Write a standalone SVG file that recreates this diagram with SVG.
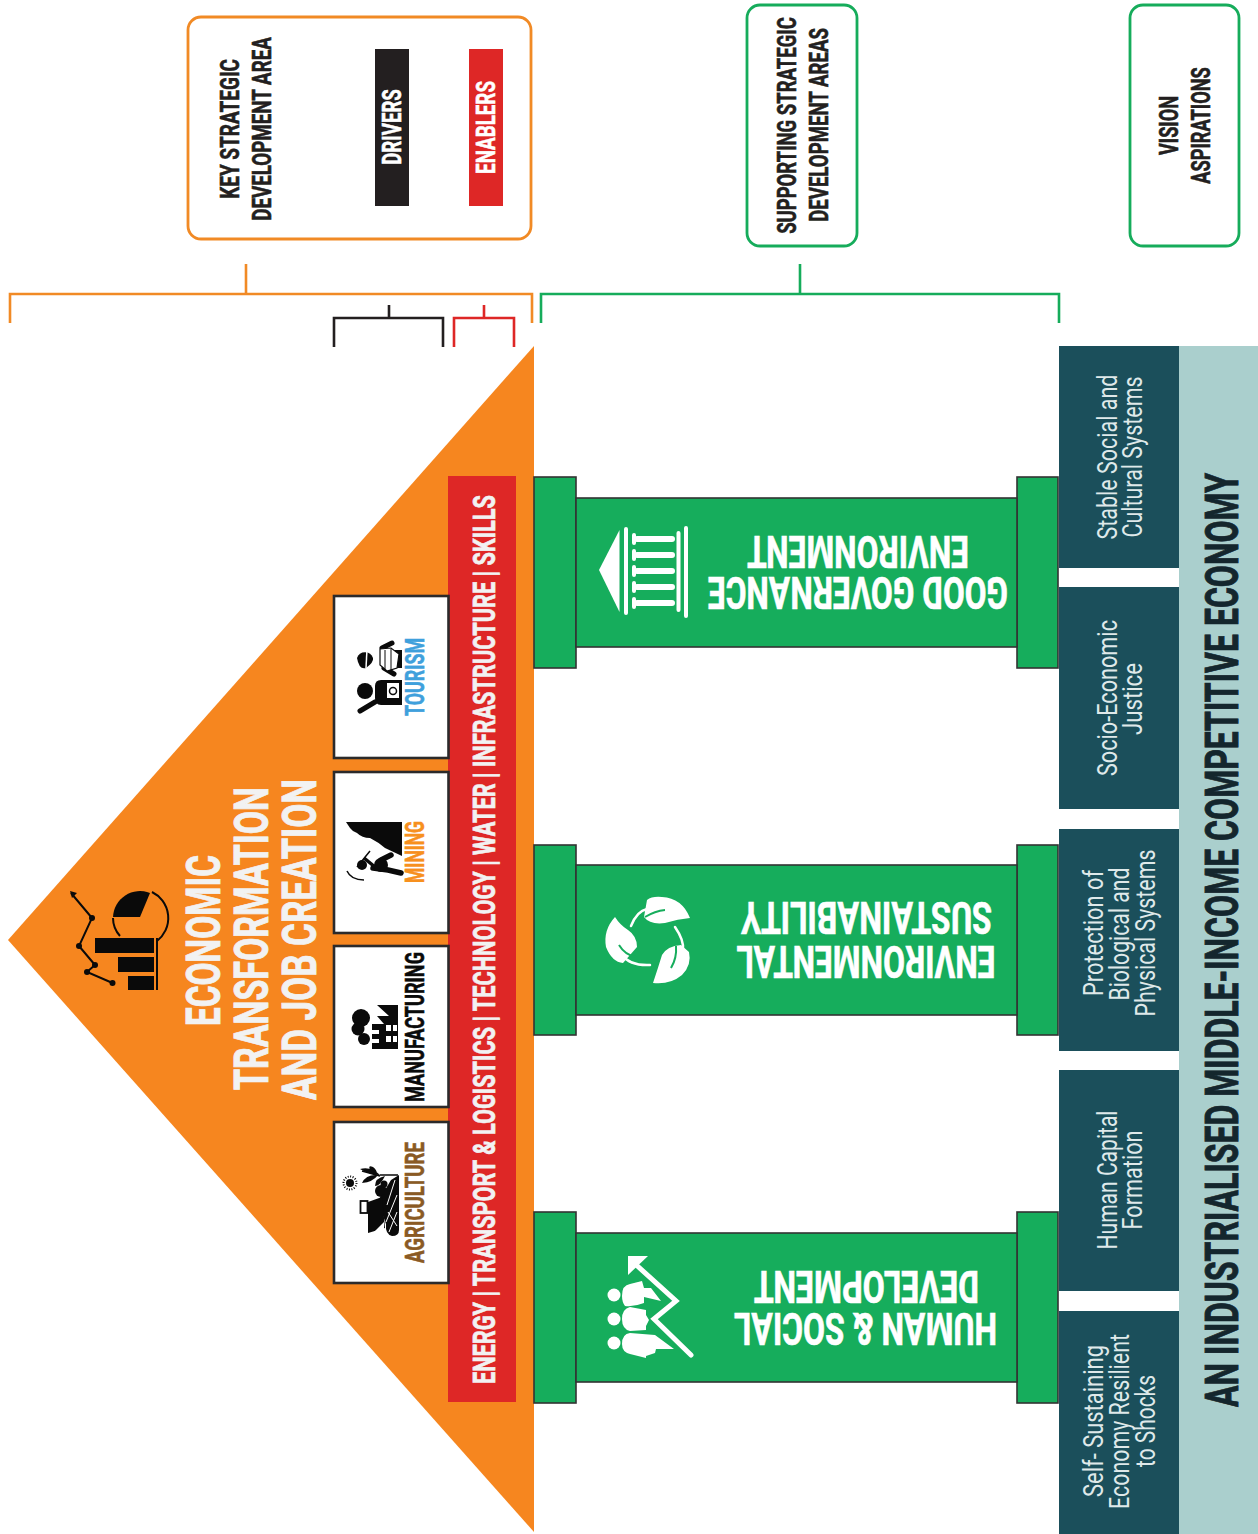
<svg xmlns="http://www.w3.org/2000/svg" width="1258" height="1534" viewBox="0 0 1258 1534">
<style>
text{font-family:"Liberation Sans Narrow","Roboto","Liberation Sans",sans-serif;font-weight:700;text-anchor:middle}
.pier{fill:#16ad5c;stroke:#333;stroke-width:1.6}
.card{fill:#fff;stroke:#2b2a2b;stroke-width:2.6}
.br{fill:none;stroke-width:2.6}
.frame{fill:#fff;stroke-width:2.8}
.teal{fill:#1b4f5b}
.soft{font-weight:400;font-size:27px;fill:#dfe9ea}
.pt{font-size:45px;fill:#fff;stroke:#fff;stroke-width:.7}
.lab{font-size:26px;stroke-width:.6}
.leg{font-size:26px;fill:#231f20;stroke:#231f20;stroke-width:.6}
.title{font-size:49px;fill:#f2f2f2;stroke:#f2f2f2;stroke-width:.9}
.white{fill:#fff}
.ln{fill:none;stroke:#fff;stroke-linecap:round}
.k{fill:#0a0a0a}
.kl{fill:none;stroke:#0a0a0a}
</style>

<g id="connectors">
<path class="br" stroke="#f18a25" d="M246 264V294M10 323V294H532V323"/>
<path class="br" stroke="#231f20" d="M389 305V318M334 347V318H443V347"/>
<path class="br" stroke="#de2726" d="M484 305V318M454 347V318H514V347"/>
<path class="br" stroke="#16ac5b" d="M800 264V294M541 323V294H1059V323"/>
</g>

<g id="legend-key">
<rect class="frame" stroke="#f18a25" x="188" y="17" width="343" height="222" rx="13"/>
<text class="leg" transform="translate(239 129) rotate(-90) scale(.72 1)" textLength="194" lengthAdjust="spacingAndGlyphs">KEY STRATEGIC</text>
<text class="leg" transform="translate(271 129) rotate(-90) scale(.72 1)" textLength="255" lengthAdjust="spacingAndGlyphs">DEVELOPMENT AREA</text>
</g>
<g id="legend-drivers">
<rect x="375" y="49" width="34" height="157" fill="#231f20"/>
<text class="lab" fill="#fff" stroke="#fff" transform="translate(401 127) rotate(-90) scale(.72 1)" textLength="105" lengthAdjust="spacingAndGlyphs">DRIVERS</text>
</g>
<g id="legend-enablers">
<rect x="469" y="49" width="34" height="157" fill="#de2726"/>
<text class="lab" fill="#fff" stroke="#fff" transform="translate(495 127.500) rotate(-90) scale(.72 1)" textLength="129" lengthAdjust="spacingAndGlyphs">ENABLERS</text>
</g>
<g id="legend-supporting">
<rect class="frame" stroke="#16ac5b" x="747" y="5" width="110" height="241" rx="13"/>
<text class="leg" transform="translate(796 125.500) rotate(-90) scale(.72 1)" textLength="301" lengthAdjust="spacingAndGlyphs">SUPPORTING STRATEGIC</text>
<text class="leg" transform="translate(828 125) rotate(-90) scale(.72 1)" textLength="269" lengthAdjust="spacingAndGlyphs">DEVELOPMENT AREAS</text>
</g>
<g id="legend-vision">
<rect class="frame" stroke="#16ac5b" x="1130" y="5" width="109" height="241" rx="13"/>
<text class="leg" transform="translate(1178 125.500) rotate(-90) scale(.72 1)" textLength="82" lengthAdjust="spacingAndGlyphs">VISION</text>
<text class="leg" transform="translate(1210 125.500) rotate(-90) scale(.72 1)" textLength="162" lengthAdjust="spacingAndGlyphs">ASPIRATIONS</text>
</g>

<g id="economic-triangle">
<polygon points="8,940 534,346 534,1532" fill="#f6861f"/>
<text class="title" transform="translate(220 940.500) rotate(-90)" textLength="171" lengthAdjust="spacingAndGlyphs">ECONOMIC</text>
<text class="title" transform="translate(268 938.500) rotate(-90)" textLength="303" lengthAdjust="spacingAndGlyphs">TRANSFORMATION</text>
<text class="title" transform="translate(316 939.500) rotate(-90)" textLength="321" lengthAdjust="spacingAndGlyphs">AND JOB CREATION</text>
<g id="growth-icon">
<path class="k" d="M113 917A27 27 0 0 1 150 893L140 917Z"/>
<path class="kl" stroke-width="2" d="M113 918A27 27 0 0 0 120 936M152 892A29 29 0 0 1 157 941"/>
<path class="k" d="M95 938H154V953H95ZM118 957H154V972H118ZM128 976H154V990H128Z"/>
<path class="kl" stroke-width="2" d="M157 938V990M71 893L92 918L79 946L95 965L87 972L112.500 983"/>
<path class="k" d="M70 891L77 893L72 898Z"/>
<g class="k"><circle cx="92" cy="918" r="3"/><circle cx="79" cy="946" r="3"/><circle cx="95" cy="965" r="3"/><circle cx="87" cy="972" r="3"/><circle cx="112.500" cy="983" r="3"/></g>
</g>
</g>

<g id="enablers-strip">
<rect x="448" y="476" width="68" height="926" fill="#de2726"/>
<text font-size="31" fill="#f2f2f2" stroke="#f2f2f2" stroke-width=".7" transform="translate(495 939.500) rotate(-90)" textLength="889" lengthAdjust="spacingAndGlyphs">ENERGY | TRANSPORT &amp; LOGISTICS | TECHNOLOGY | WATER | INFRASTRUCTURE | SKILLS</text>
</g>

<g id="agriculture">
<rect class="card" x="334" y="1122" width="114.500" height="161"/>
<text class="lab" fill="#8a5a24" stroke="#8a5a24" transform="translate(424 1202.500) rotate(-90)" textLength="121" lengthAdjust="spacingAndGlyphs">AGRICULTURE</text>
<circle class="k" cx="350" cy="1183" r="4"/>
<circle class="kl" cx="350" cy="1183" r="6.500" stroke-width="2" stroke-dasharray="1 1.500"/>
<g class="k"><circle cx="381" cy="1191" r="6"/><circle cx="386" cy="1201" r="7"/><circle cx="384" cy="1184" r="3.500"/></g>
<path class="k" d="M399 1175V1230Q399 1236 392 1236Q385 1234 386 1224L381 1210L385 1190L391 1180Z"/>
<path d="M395 1180L387 1205M397 1195L386 1222M397 1212L389 1232M388 1212L397 1226" fill="none" stroke="#fff" stroke-width="1"/>
<path class="k" d="M368 1202L382 1197L385 1228L368 1233Z"/>
<path class="white" d="M373 1233L384 1222V1232Z"/>
<rect x="360.500" y="1201" width="7" height="12" fill="none" stroke="#0a0a0a" stroke-width="1.800"/>
<path class="kl" stroke-width="1.500" d="M398 1175H380M380 1176L362 1171"/>
<path class="k" d="M380 1175Q370 1175 360 1169Q371 1166 380 1175ZM378 1175Q373 1182 362 1183Q366 1174 378 1175ZM372 1173Q366 1164 373 1167Q377 1170 377 1174ZM385 1176Q380 1186 375 1186Q375 1178 385 1176Z"/>
</g>
<g id="manufacturing">
<rect class="card" x="334" y="946" width="114.500" height="161"/>
<text class="lab" fill="#0a0a0a" stroke="#0a0a0a" transform="translate(424 1027) rotate(-90)" textLength="150" lengthAdjust="spacingAndGlyphs">MANUFACTURING</text>
<g class="k"><circle cx="361" cy="1018" r="9"/><circle cx="358" cy="1029" r="6.500"/><circle cx="364" cy="1039" r="6"/></g>
<path class="k" d="M398 1005H377L389 1016H377L384 1024H372V1030H379V1034H372V1039H379V1043H372V1049H398Z"/>
<path class="white" d="M386 1025H391V1031H386ZM393 1025H397V1031H393ZM386 1036H391V1042H386ZM393 1036H397V1042H393Z"/>
</g>
<g id="mining">
<rect class="card" x="334" y="772" width="114.500" height="161"/>
<text class="lab" fill="#f7901e" stroke="#f7901e" transform="translate(424 852) rotate(-90)" textLength="62" lengthAdjust="spacingAndGlyphs">MINING</text>
<path class="k" d="M346 822H402V856L385 848Q378 842 370 838Q362 838 357 833Q353 832 350 828Z"/>
<path class="kl" stroke-width="5.500" stroke-linecap="round" d="M401 873L388 870L373 868M381 860L391 855"/>
<circle class="k" cx="381" cy="865" r="7"/>
<circle class="k" cx="362" cy="865" r="5"/>
<path class="kl" stroke-width="1.500" d="M347 871Q351 880 364 880M357 867L370 851"/>
<path class="kl" stroke-width="3.500" d="M375 867L364 858"/>
</g>
<g id="tourism">
<rect class="card" x="334" y="596" width="114.500" height="162"/>
<text fill="#3fa0dc" stroke="#3fa0dc" class="lab" transform="translate(424 677) rotate(-90)" textLength="78" lengthAdjust="spacingAndGlyphs">TOURISM</text>
<circle class="k" cx="365" cy="691" r="8"/>
<path class="k" d="M375 686Q375 680 381 680H402V705H381Q375 705 375 698Z"/>
<rect x="387" y="683" width="12" height="15" fill="#fff"/>
<circle cx="393" cy="691" r="3.500" fill="none" stroke="#0a0a0a" stroke-width="1.500"/>
<path class="kl" stroke-width="5" stroke-linecap="round" d="M375 702L360 711"/>
<path class="k" d="M357 658A8.500 8.500 0 0 1 373 658Q374 662 366 668Q359 670 357 658Z"/>
<path d="M367 649L366 668" stroke="#fff" stroke-width="1.500"/>
<path class="k" d="M392 650H402V668H392Z"/>
<path class="kl" stroke-width="5" stroke-linecap="round" d="M382 648L392 643M384 668L394 674"/>
<path d="M380 649L391 648L399 654L397 668L387 671L380 665Z" fill="#fff" stroke="#0a0a0a" stroke-width="1.200"/>
<path d="M385 650V669M391 649V670" stroke="#0a0a0a" stroke-width="1"/>
</g>

<g id="pillar-governance">
<rect class="pier" x="534" y="477" width="42" height="191"/>
<rect class="pier" x="1017" y="477" width="41" height="191"/>
<rect class="pier" x="576" y="498" width="441" height="149"/>
<path class="white" d="M599 570L619.500 530V612Z"/>
<path class="ln" stroke-width="4" d="M626 529V613M678.500 533V610M686 528V616"/>
<path class="ln" stroke-width="6" d="M637 539H672M637 555H672M637 571H672M637 587H672M637 603H672"/>
<path class="ln" stroke-width="4" d="M634 535V543M634 551V559M634 567V575M634 583V591M634 599V607"/>
<text class="pt" transform="translate(858 577) rotate(180)" textLength="300" lengthAdjust="spacingAndGlyphs">GOOD GOVERNANCE</text>
<text class="pt" transform="translate(858 536) rotate(180)" textLength="222" lengthAdjust="spacingAndGlyphs">ENVIRONMENT</text>
</g>
<g id="pillar-environment">
<rect class="pier" x="534" y="845" width="42" height="190"/>
<rect class="pier" x="1017" y="845" width="41" height="190"/>
<rect class="pier" x="576" y="865" width="441" height="150"/>
<path class="white" d="M690 918Q682 898 662 897Q652 896 647 900L644 917Q650 925 665 923Q678 919 690 918Z"/>
<path class="white" d="M615 917Q603 930 606 947Q612 962 623 963L637 947Q637 936 628 930Q620 925 615 917Z"/>
<path class="white" d="M653 983Q670 985 682 975Q692 965 689 952L681 945Q667 946 662 955Q658 968 653 983Z"/>
<path class="ln" stroke-width="2.500" d="M631 926Q637 911 647 909Q655 908 663 908M650 965Q630 966 622 955Q619 950 619 946M675 927Q684 940 683 950Q681 958 675 965"/>
<path d="M645 917Q655 911 665 910" fill="none" stroke="#16ad5c" stroke-width="2"/>
<path d="M619 945Q625 955 636 957" fill="none" stroke="#16ad5c" stroke-width="2"/>
<path d="M676 946Q677 958 671 968" fill="none" stroke="#16ad5c" stroke-width="2"/>
<text class="pt" transform="translate(866 946) rotate(180)" textLength="259" lengthAdjust="spacingAndGlyphs">ENVIRONMENTAL</text>
<text class="pt" transform="translate(866.500 902) rotate(180)" textLength="251" lengthAdjust="spacingAndGlyphs">SUSTAINABILITY</text>
</g>
<g id="pillar-human">
<rect class="pier" x="534" y="1212" width="42" height="191"/>
<rect class="pier" x="1017" y="1212" width="41" height="191"/>
<rect class="pier" x="576" y="1233" width="441" height="149"/>
<path class="ln" stroke-width="5" stroke-linecap="butt" d="M691 1355L654 1319L676 1301L633 1262"/>
<path class="white" d="M628 1256H648L628 1275Z"/>
<g class="white">
<circle cx="614" cy="1295" r="6.500"/><circle cx="614" cy="1319" r="6.500"/><circle cx="614" cy="1343" r="6.500"/>
<path d="M622 1296Q622 1285 630 1284L642 1281L644 1288L651 1288L661 1301L644 1297V1303Q634 1307 625 1306Q622 1302 622 1296Z"/>
<path d="M622 1319Q622 1309 630 1307L646 1310V1315L649 1320L646 1326V1330L630 1331Q622 1329 622 1319Z"/>
<path d="M622 1344Q622 1334 630 1333L655 1335L674 1349H656L655 1353L646 1356L646 1358L630 1354Q622 1352 622 1344Z"/>
</g>
<text class="pt" transform="translate(865.500 1313) rotate(180)" textLength="263" lengthAdjust="spacingAndGlyphs">HUMAN &amp; SOCIAL</text>
<text class="pt" transform="translate(866.500 1271) rotate(180)" textLength="225" lengthAdjust="spacingAndGlyphs">DEVELOPMENT</text>
</g>

<g id="aspiration-stable">
<rect class="teal" x="1059" y="346" width="120" height="222"/>
<text class="soft" transform="translate(1117 457) rotate(-90)" textLength="165" lengthAdjust="spacingAndGlyphs">Stable Social and</text>
<text class="soft" transform="translate(1142 457) rotate(-90)" textLength="161" lengthAdjust="spacingAndGlyphs">Cultural Systems</text>
</g>
<g id="aspiration-justice">
<rect class="teal" x="1059" y="587" width="120" height="222"/>
<text class="soft" transform="translate(1116.500 698) rotate(-90)" textLength="156" lengthAdjust="spacingAndGlyphs">Socio-Economic</text>
<text class="soft" transform="translate(1141.500 699) rotate(-90)" textLength="72" lengthAdjust="spacingAndGlyphs">Justice</text>
</g>
<g id="aspiration-protection">
<rect class="teal" x="1059" y="829" width="120" height="222"/>
<text class="soft" transform="translate(1103 933) rotate(-90)" textLength="126" lengthAdjust="spacingAndGlyphs">Protection of</text>
<text class="soft" transform="translate(1129 934) rotate(-90)" textLength="133" lengthAdjust="spacingAndGlyphs">Biological and</text>
<text class="soft" transform="translate(1155 933) rotate(-90)" textLength="167" lengthAdjust="spacingAndGlyphs">Physical Systems</text>
</g>
<g id="aspiration-human">
<rect class="teal" x="1059" y="1070" width="120" height="221"/>
<text class="soft" transform="translate(1116.500 1180) rotate(-90)" textLength="139" lengthAdjust="spacingAndGlyphs">Human Capital</text>
<text class="soft" transform="translate(1142 1180) rotate(-90)" textLength="99" lengthAdjust="spacingAndGlyphs">Formation</text>
</g>
<g id="aspiration-self">
<rect class="teal" x="1059" y="1311" width="120" height="223"/>
<text class="soft" transform="translate(1103 1421) rotate(-90)" textLength="152" lengthAdjust="spacingAndGlyphs">Self- Sustaining</text>
<text class="soft" transform="translate(1129 1421.500) rotate(-90)" textLength="175" lengthAdjust="spacingAndGlyphs">Economy Resilient</text>
<text class="soft" transform="translate(1155 1421) rotate(-90)" textLength="92" lengthAdjust="spacingAndGlyphs">to Shocks</text>
</g>
<g id="vision-band">
<rect x="1179" y="346" width="79" height="1188" fill="#aacfcd"/>
<text font-size="47" fill="#14262d" stroke="#14262d" stroke-width=".9" transform="translate(1237.500 940) rotate(-90)" textLength="934" lengthAdjust="spacingAndGlyphs">AN INDUSTRIALISED MIDDLE-INCOME COMPETITIVE ECONOMY</text>
</g>
</svg>
